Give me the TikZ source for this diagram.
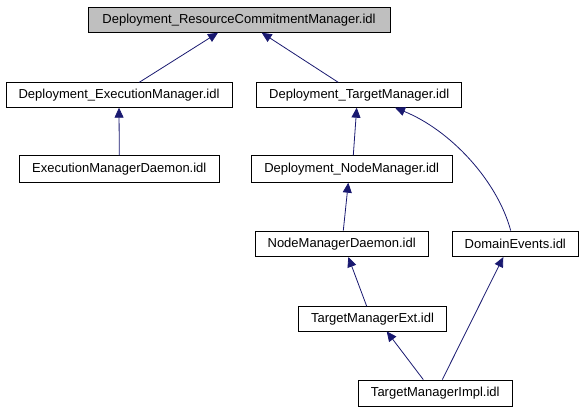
\documentclass[tikz,border=0pt]{standalone}
\usepackage{fontspec}
\setmainfont{Liberation Sans}
\usetikzlibrary{arrows.meta, positioning}
\definecolor{edgeblue}{HTML}{191970}
\definecolor{topgray}{HTML}{BFBFBF}
\tikzset{box/.style={rectangle,draw,line width=0.8pt,align=center,inner xsep=0pt,inner ysep=0pt,font=\fontsize{13}{15}\selectfont},line/.style={edgeblue,line width=0.8pt,{Triangle[length=10pt,width=9pt]}-}}

\begin{document}
\begin{tikzpicture}[x=1pt,y=-1pt]
\useasboundingbox (0,0) rectangle (583,411);
\node[box, fill=topgray, minimum width=302pt, minimum height=25pt] (rcm) at (239,19.8) {Deployment\_ResourceCommitmentManager.idl};
\node[box, minimum width=226pt, minimum height=24.6pt] (em) at (119,95) {Deployment\_ExecutionManager.idl};
\node[box, minimum width=205pt, minimum height=24.6pt] (tm) at (359.2,95) {Deployment\_TargetManager.idl};
\node[box, minimum width=200pt, minimum height=26.6pt] (emd) at (119.3,169) {ExecutionManagerDaemon.idl};
\node[box, minimum width=201.3pt, minimum height=26.6pt] (nm) at (351.7,169) {Deployment\_NodeManager.idl};
\node[box, minimum width=173.3pt, minimum height=25.7pt] (nmd) at (341.7,243.8) {NodeManagerDaemon.idl};
\node[box, minimum width=126pt, minimum height=25.7pt] (de) at (515.3,243.8) {DomainEvents.idl};
\node[box, minimum width=148.4pt, minimum height=24.3pt] (tme) at (372.5,318.8) {TargetManagerExt.idl};
\node[box, minimum width=154pt, minimum height=26pt] (tmi) at (435.3,393) {TargetManagerImpl.idl};
\draw[line] ([xshift=-21pt]rcm.south) -- ([xshift=20.3pt]em.north);
\draw[line] ([xshift=22.7pt]rcm.south) -- ([xshift=-21pt]tm.north);
\draw[line] (em.south) -- (emd.north);
\draw[line] ([xshift=-2.5pt]tm.south) -- ([xshift=1.6pt]nm.north);
\draw[line] ([xshift=35.8pt]tm.south) .. controls (450,130) and (497,180) .. ([xshift=-4.6pt]de.north);
\draw[line] ([xshift=-3.4pt]nm.south) -- ([xshift=1.6pt]nmd.north);
\draw[line] ([xshift=6.6pt]nmd.south) -- ([xshift=-5.8pt]tme.north);
\draw[line] ([xshift=14.2pt]tme.south) -- ([xshift=-12pt]tmi.north);
\draw[line] ([xshift=-12pt]de.south) -- ([xshift=7pt]tmi.north);
\end{tikzpicture}
\end{document}
